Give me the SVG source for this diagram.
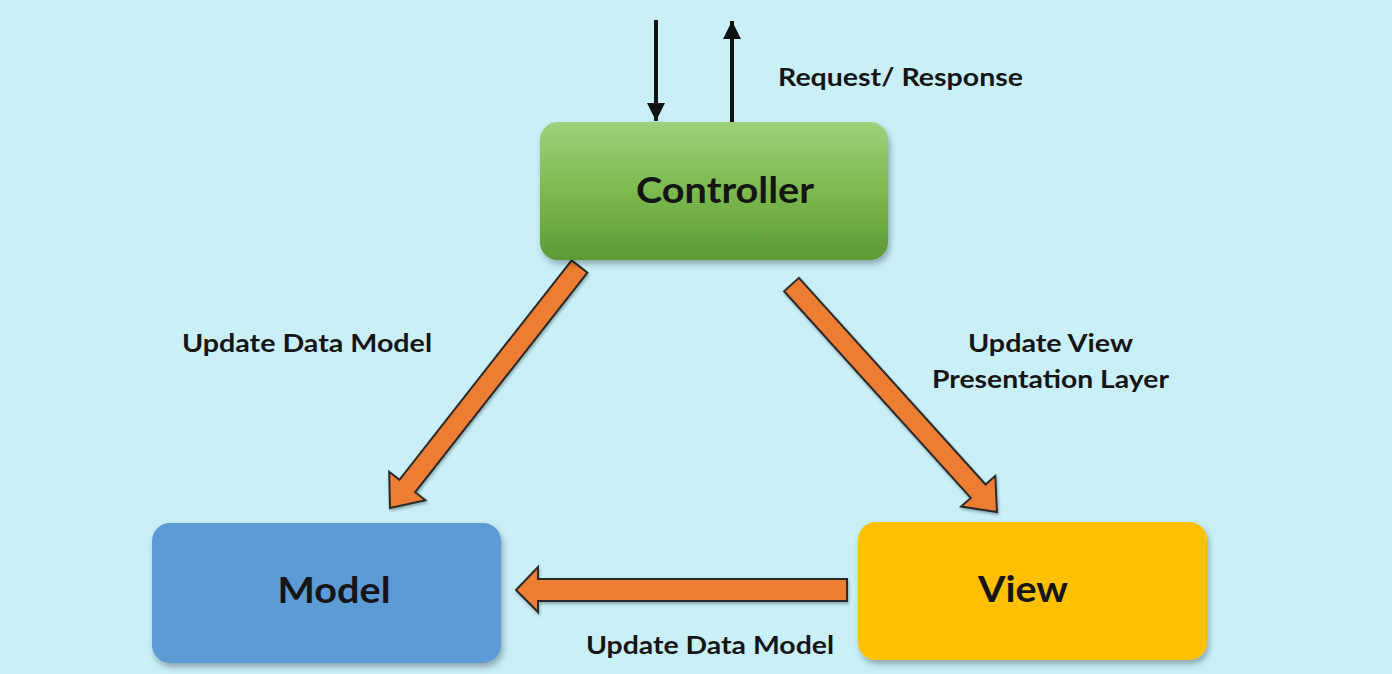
<svg xmlns="http://www.w3.org/2000/svg" width="1392" height="674" viewBox="0 0 1392 674">
<defs>
<linearGradient id="gGreen" x1="0" y1="0" x2="0" y2="1">
<stop offset="0" stop-color="#9fd07a"/>
<stop offset="0.5" stop-color="#7cb94f"/>
<stop offset="1" stop-color="#5c9a35"/>
</linearGradient>
<filter id="sh" x="-10%" y="-10%" width="125%" height="130%">
<feDropShadow dx="2" dy="4" stdDeviation="3" flood-color="#000" flood-opacity="0.3"/>
</filter>
<filter id="ash" x="-10%" y="-10%" width="125%" height="130%">
<feDropShadow dx="1" dy="2" stdDeviation="1.5" flood-color="#000" flood-opacity="0.3"/>
</filter>
<marker id="bh" markerUnits="userSpaceOnUse" markerWidth="20" markerHeight="20" refX="18" refY="9" orient="auto">
<path d="M0,0 L18,9 L0,18 Z" fill="#111"/>
</marker>
<style>
.lbl{font-family:Lato,"Open Sans","Liberation Sans",sans-serif;font-weight:bold;fill:#151515;}
.small{font-size:24px;}
.big{font-size:36px;text-anchor:middle;}
.oarrow{fill:#ed7d31;stroke:#2b2b2b;stroke-width:2;stroke-linejoin:miter;filter:url(#ash);}
.blk{stroke:#111;stroke-width:4;fill:none;}
</style>
</defs>
<rect width="1392" height="674" fill="#c9f0f7"/>

<g id="connectors">
<line class="blk" x1="656" y1="20" x2="656" y2="121" marker-end="url(#bh)"/>
<line class="blk" x1="732" y1="122" x2="732" y2="21" marker-end="url(#bh)"/>
<polygon class="oarrow" points="571.6,260.3 587.4,272.7 415.2,492.2 425.4,500.2 390,508 389.2,471.8 399.4,479.8"/>
<polygon class="oarrow" points="798.9,277.8 985.6,484.5 995.3,475.8 997,512 961.1,506.6 970.8,497.9 784.1,291.2"/>
<polygon class="oarrow" points="847,579 538,579 538,567 516,590 538,612 538,601 847,601"/>
</g>

<g id="labels">
<text class="lbl small" x="778" y="86" textLength="245" lengthAdjust="spacingAndGlyphs">Request/ Response</text>
<text class="lbl small" x="182" y="352" textLength="250" lengthAdjust="spacingAndGlyphs">Update Data Model</text>
<text class="lbl small" x="968" y="352" textLength="165" lengthAdjust="spacingAndGlyphs">Update View</text>
<text class="lbl small" x="932" y="388" textLength="237" lengthAdjust="spacingAndGlyphs">Presentation Layer</text>
<text class="lbl small" x="586" y="654" textLength="248" lengthAdjust="spacingAndGlyphs">Update Data Model</text>
</g>

<g id="controller">
<rect x="540" y="122" width="348" height="138" rx="18" fill="url(#gGreen)" filter="url(#sh)"/>
<text class="lbl big" x="725" y="203" textLength="178" lengthAdjust="spacingAndGlyphs">Controller</text>
</g>

<g id="model">
<rect x="152" y="523" width="349" height="140" rx="18" fill="#5b9bd5" filter="url(#sh)"/>
<text class="lbl big" x="334" y="603" textLength="113" lengthAdjust="spacingAndGlyphs">Model</text>
</g>

<g id="view">
<rect x="858" y="522" width="349" height="138" rx="18" fill="#ffc000" filter="url(#sh)"/>
<text class="lbl big" x="1023" y="602" textLength="90" lengthAdjust="spacingAndGlyphs">View</text>
</g>
</svg>
